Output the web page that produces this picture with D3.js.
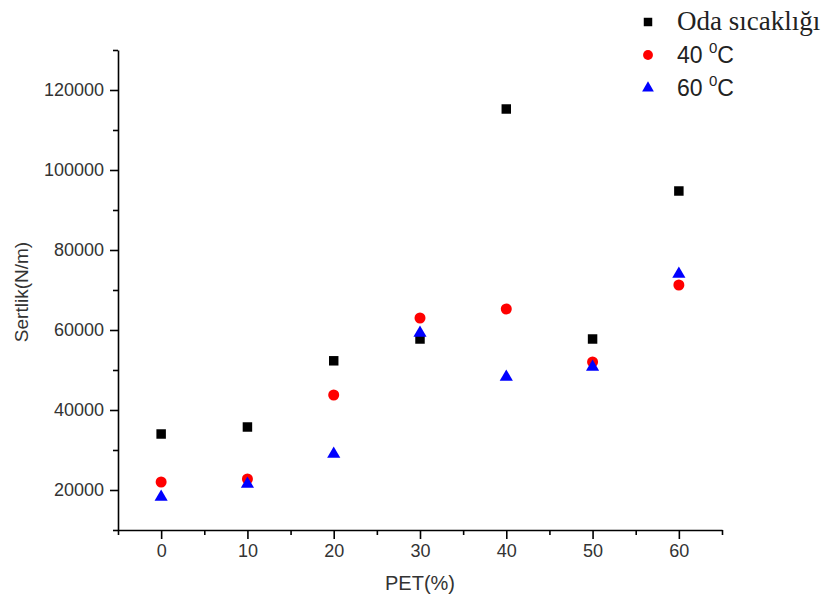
<!DOCTYPE html>
<html>
<head>
<meta charset="utf-8">
<script src="https://cdn.jsdelivr.net/npm/d3@7"></script>
<style>
  html, body { margin: 0; padding: 0; background: #fff; }
  svg { display: block; }
  .tick text { font-family: "Liberation Sans", Arial, sans-serif; fill: #333; }
</style>
</head>
<body>
<svg id="chart" width="824" height="604"></svg>
<script>
// PET content (%) on the x axis
const petPercent = [0, 10, 20, 30, 40, 50, 60];

// Stiffness (N/m) for each test temperature
const odaSicakligi = [34000, 35750, 52300, 57750, 115250, 57750, 94750];
const sicaklik40 = [22000, 22750, 43750, 63000, 65250, 52000, 71250];
const sicaklik60 = [18250, 21500, 29000, 59250, 48250, 50750, 74000];

// Axis ticks
const xMajorTicks = [0, 10, 20, 30, 40, 50, 60];
const xMinorTicks = [-5, 5, 15, 25, 35, 45, 55, 65];
const yMajorTicks = [20000, 40000, 60000, 80000, 100000, 120000];
const yMinorTicks = [10000, 30000, 50000, 70000, 90000, 110000, 130000];

const seriesList = [
  { name: "Oda sıcaklığı", values: odaSicakligi, color: "#000000", symbol: d3.symbolSquare, size: 90, serif: true },
  { name: "40", values: sicaklik40, color: "#ff0000", symbol: d3.symbolCircle, size: 95, serif: false },
  { name: "60", values: sicaklik60, color: "#0000ff", symbol: d3.symbolTriangle, size: 75, serif: false }
];

const svg = d3.select("#chart");

const x = d3.scaleLinear().domain([-5, 65]).range([118, 722]);
const y = d3.scaleLinear().domain([10000, 130000]).range([530, 50]);

// Left axis
const yAxis = svg.append("g").attr("transform", `translate(${x.range()[0]},0)`)
  .call(d3.axisLeft(y).tickValues(yMajorTicks).tickSize(8).tickSizeOuter(0).tickPadding(6)
    .tickFormat(d3.format("d")));
yAxis.selectAll(".tick text").style("font-size", "18px");
yAxis.select(".domain").attr("stroke-width", 1.6);
yAxis.selectAll(".tick line").attr("stroke-width", 1.6);

svg.append("g").attr("transform", `translate(${x.range()[0]},0)`)
  .call(d3.axisLeft(y).tickValues(yMinorTicks).tickSize(5).tickFormat(""))
  .call(g => g.select(".domain").remove())
  .selectAll(".tick line").attr("stroke-width", 1.6);

// Bottom axis
const xAxis = svg.append("g").attr("transform", `translate(0,${y.range()[0]})`)
  .call(d3.axisBottom(x).tickValues(xMajorTicks).tickSize(9).tickSizeOuter(0).tickPadding(5));
xAxis.selectAll(".tick text").style("font-size", "18px");
xAxis.select(".domain").attr("stroke-width", 1.6);
xAxis.selectAll(".tick line").attr("stroke-width", 1.6);

svg.append("g").attr("transform", `translate(0,${y.range()[0]})`)
  .call(d3.axisBottom(x).tickValues(xMinorTicks).tickSize(5).tickFormat(""))
  .call(g => g.select(".domain").remove())
  .selectAll(".tick line").attr("stroke-width", 1.6);

// Axis titles
svg.append("text")
  .attr("x", (x.range()[0] + x.range()[1]) / 2)
  .attr("y", 590)
  .attr("text-anchor", "middle")
  .style("font-family", "'Liberation Sans', Arial, sans-serif")
  .style("font-size", "20px")
  .attr("fill", "#333")
  .text("PET(%)");

svg.append("text")
  .attr("transform", `translate(28,${(y.range()[0] + y.range()[1]) / 2 + 2}) rotate(-90)`)
  .attr("text-anchor", "middle")
  .style("font-family", "'Liberation Sans', Arial, sans-serif")
  .style("font-size", "19px")
  .attr("fill", "#333")
  .text("Sertlik(N/m)");

// Data markers
seriesList.forEach(s => {
  svg.append("g").selectAll("path")
    .data(s.values.map((v, i) => ({ p: petPercent[i], v })))
    .join("path")
    .attr("transform", d => `translate(${x(d.p)},${y(d.v)})`)
    .attr("d", d3.symbol().type(s.symbol).size(s.size))
    .attr("fill", s.color);
});

// Legend
const legend = svg.append("g");
const legendY = [22, 55, 88];
seriesList.forEach((s, i) => {
  legend.append("path")
    .attr("transform", `translate(648,${legendY[i]})`)
    .attr("d", d3.symbol().type(s.symbol).size(s.size * 0.8))
    .attr("fill", s.color);
  const t = legend.append("text")
    .attr("x", 677)
    .attr("y", legendY[i] + 8)
    .attr("fill", "#222");
  if (s.serif) {
    t.style("font-family", "'Liberation Serif', 'Times New Roman', serif")
      .style("font-size", "27px")
      .text(s.name);
  } else {
    t.style("font-family", "'Liberation Sans', Arial, sans-serif")
      .style("font-size", "23px");
    t.append("tspan").text(s.name + " ");
    t.append("tspan").attr("dy", -10).style("font-size", "15px").text("0");
    t.append("tspan").attr("dy", 10).text("C");
  }
});
</script>
</body>
</html>
